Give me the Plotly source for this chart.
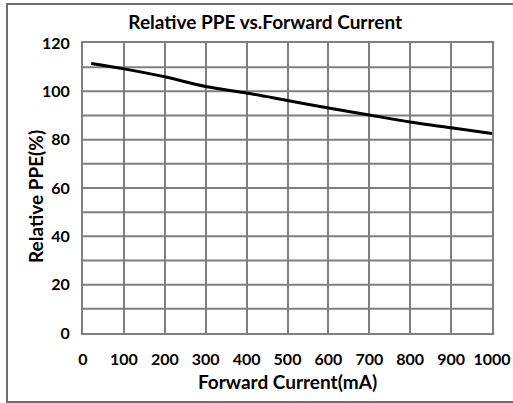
import plotly.graph_objects as go

# Relative PPE curve
current_ma = [20, 100, 200, 300, 400, 500, 600, 700, 800, 900, 1000]
relative_ppe = [111.5, 109.3, 106.0, 102.0, 99.3, 96.2, 93.1, 90.2, 87.3, 84.9, 82.5]

x_ticks = [0, 100, 200, 300, 400, 500, 600, 700, 800, 900, 1000]
y_ticks = [0, 20, 40, 60, 80, 100, 120]

font_family = "Lato, 'Open Sans', sans-serif"
grid_color = "#7f7f7f"

fig = go.Figure()

fig.add_trace(go.Scatter(
    x=current_ma,
    y=relative_ppe,
    mode='lines',
    line=dict(color='black', width=3, shape='spline'),
    showlegend=False
))

fig.update_layout(
    width=513,
    height=403,
    margin=dict(l=83, r=21, t=43, b=70, autoexpand=False),
    paper_bgcolor='white',
    plot_bgcolor='white',
    font=dict(family=font_family, color='black'),
    title=dict(
        text='<b>Relative PPE vs.Forward Current</b>',
        font=dict(size=19, color='black'),
        x=0.517, xanchor='center',
        y=0.945, yanchor='middle'
    ),
    xaxis=dict(
        range=[0, 1000],
        tickvals=x_ticks,
        ticktext=[f'<b>{v}</b>' for v in x_ticks],
        tickfont=dict(size=16),
        showgrid=True,
        gridcolor=grid_color,
        gridwidth=2,
        showline=True,
        linecolor=grid_color,
        linewidth=2,
        mirror=True,
        ticks='',
        ticklabelstandoff=11,
        zeroline=False,
        automargin=False,
        title=dict(text='<b>Forward Current(mA)</b>', font=dict(size=19), standoff=8)
    ),
    yaxis=dict(
        range=[0, 120],
        tickvals=y_ticks,
        ticktext=[f'<b>{v}</b>' for v in y_ticks],
        tickfont=dict(size=16),
        showgrid=False,
        showline=True,
        linecolor=grid_color,
        linewidth=2,
        mirror=True,
        ticks='',
        ticklabelstandoff=8,
        zeroline=False,
        automargin=False
    )
)

# y title sits close to the tick labels, so place it as an annotation
fig.add_annotation(
    text='<b>Relative PPE(%)</b>',
    xref='paper', yref='paper',
    x=(35 - 83) / 409, y=(333 - 197) / 290,
    xanchor='center', yanchor='middle',
    textangle=-90, showarrow=False,
    font=dict(size=19, color='black')
)

# horizontal grid every 10 % (labels only every 20)
for v in range(10, 120, 10):
    fig.add_hline(y=v, line=dict(color=grid_color, width=2), layer='below')

# outer frame of the datasheet figure
fig.add_shape(
    type='rect', xref='paper', yref='paper',
    x0=(7 - 83) / 409, x1=(530 - 83) / 409,
    y0=1 - (402 - 43) / 290, y1=1 + (43 - 4) / 290,
    line=dict(color='#6e6e6e', width=2)
)

# drop the default page margin so the figure sits at the window corner
fig.write_html(
    "out.html",
    config={'displayModeBar': False},
    post_script="document.body.style.margin='0';"
)
